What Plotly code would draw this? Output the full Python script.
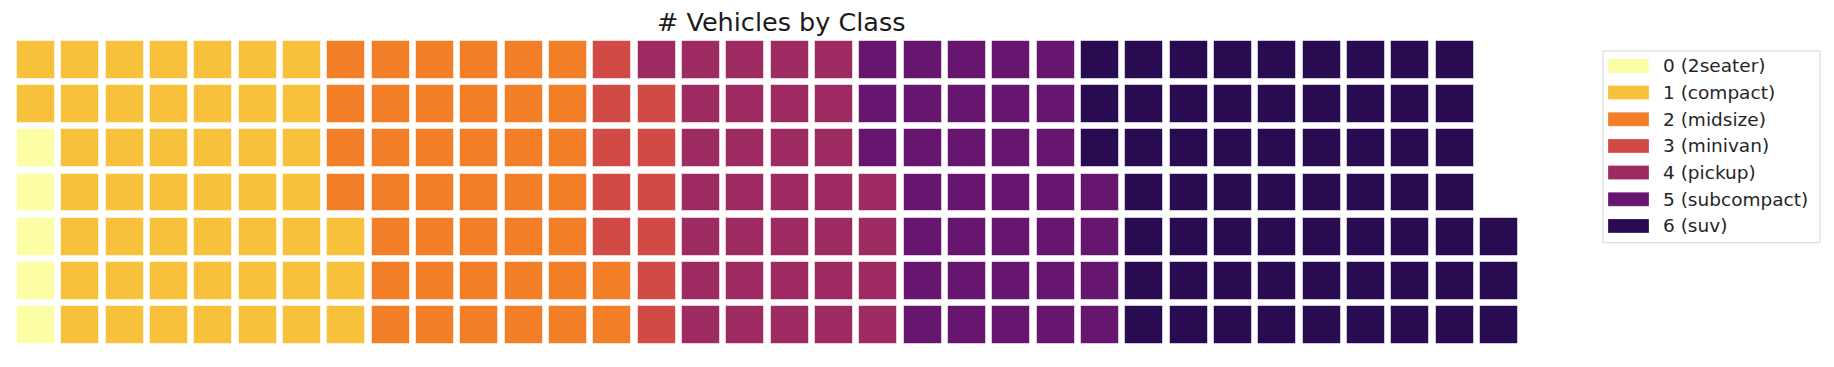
import plotly.graph_objects as go

# ---- data ----
classes = ["2seater", "compact", "midsize", "minivan", "pickup", "subcompact", "suv"]
counts = [5, 47, 41, 11, 33, 35, 62]
colors = ["#FBFEA5", "#F7C13B", "#F27E27", "#D24A45", "#9D2A61", "#66166E", "#290B51"]
n_rows = 7

# ---- canvas geometry (page pixels; the page has an 8px body margin) ----
OFF = 8
W, H = 1834 - 2 * OFF, 367 - 2 * OFF
PL, PT, PW, PH = 14, 38, 1507, 309.5   # plot area in page pixels
ML = PL - OFF
MT = PT - OFF
MR = W - ML - PW
MB = H - MT - PH

def px_x(px):
    return (px - PL) / PW

def px_y(py):
    return (PT + PH - py) / PH

cell = 0.857
fig = go.Figure()

idx = 0
for k, (name, cnt, col) in enumerate(zip(classes, counts, colors)):
    xs, bases = [], []
    for j in range(cnt):
        i = idx + j
        c, r = divmod(i, n_rows)
        xs.append(c)
        bases.append(r - cell / 2)
    idx += cnt
    fig.add_trace(go.Bar(
        x=xs, y=[cell] * len(xs), base=bases, width=cell,
        name=f"{k} ({name})",
        marker=dict(color=col, line=dict(color="rgba(255,255,255,0.55)", width=1)),
        showlegend=False,
        hovertemplate=f"{k} ({name})<extra></extra>",
    ))

shapes = []
annotations = []

# custom legend (matplotlib-like)
shapes.append(dict(type="rect", xref="paper", yref="paper",
                   x0=px_x(1603), x1=px_x(1820), y0=px_y(243), y1=px_y(51),
                   line=dict(color="#d6d6d6", width=1), fillcolor="white", layer="below"))
for k, (name, col) in enumerate(zip(classes, colors)):
    cy = 66 + k * 26.7
    shapes.append(dict(type="rect", xref="paper", yref="paper",
                       x0=px_x(1608), x1=px_x(1649), y0=px_y(cy + 7), y1=px_y(cy - 7),
                       line=dict(color="rgba(255,255,255,0.5)", width=0.5), fillcolor=col))
    annotations.append(dict(xref="paper", yref="paper", x=px_x(1661), y=px_y(cy),
                            xanchor="left", yanchor="middle", showarrow=False,
                            text=f"{k} ({name})",
                            font=dict(family="DejaVu Sans", size=18.5, color="#262626")))

annotations.append(dict(xref="paper", yref="paper", x=px_x(781), y=px_y(22),
                        xanchor="center", yanchor="middle", showarrow=False,
                        text="# Vehicles by Class",
                        font=dict(family="DejaVu Sans", size=25.5, color="#1a1a1a")))

fig.update_layout(
    width=W, height=H,
    margin=dict(l=ML, r=MR, t=MT, b=MB, pad=0),
    paper_bgcolor="white", plot_bgcolor="white",
    barmode="overlay", bargap=0,
    xaxis=dict(range=[-0.5, 33.5], visible=False, fixedrange=True),
    yaxis=dict(range=[-0.5, n_rows - 0.5], visible=False, fixedrange=True),
    shapes=shapes, annotations=annotations,
    showlegend=False,
)

fig.write_html("out.html")
